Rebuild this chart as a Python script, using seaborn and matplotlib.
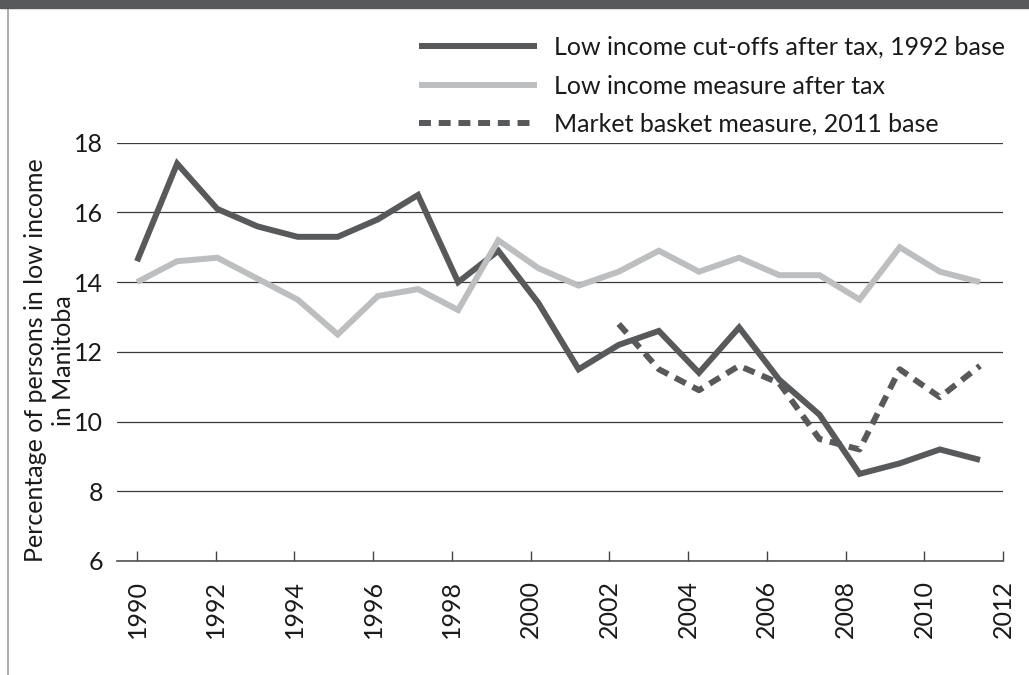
import seaborn as sns
import matplotlib.pyplot as plt
from matplotlib.lines import Line2D
from matplotlib.patches import Rectangle

# data
years = list(range(1990, 2012))
lico = [14.6, 17.4, 16.1, 15.6, 15.3, 15.3, 15.8, 16.5, 14.0, 14.9, 13.4,
        11.5, 12.2, 12.6, 11.4, 12.7, 11.2, 10.2, 8.5, 8.8, 9.2, 8.9]
lim = [14.0, 14.6, 14.7, 14.1, 13.5, 12.5, 13.6, 13.8, 13.2, 15.2, 14.4,
       13.9, 14.3, 14.9, 14.3, 14.7, 14.2, 14.2, 13.5, 15.0, 14.3, 14.0]
mbm_years = list(range(2002, 2012))
mbm = [12.8, 11.5, 10.9, 11.6, 11.1, 9.5, 9.2, 11.5, 10.7, 11.6]

labels = ['Low income cut-offs after tax, 1992 base',
          'Low income measure after tax',
          'Market basket measure, 2011 base']
tick_years = list(range(1990, 2013, 2))
y_ticks = [6, 8, 10, 12, 14, 16, 18]

dark = '#58595b'
light = '#bcbec0'
ink = '#1a1a1a'

sns.set_style('white')
plt.rcParams['font.family'] = ['Lato', 'DejaVu Sans']
fs = 18

W, H = 1029, 675
fig = plt.figure(figsize=(W / 100, H / 100), dpi=100)
ax = fig.add_axes([117 / W, 1 - 561 / H, (1003 - 117) / W, (561 - 142.7) / H])

lw = 4.3
sns.lineplot(x=years, y=lico, color=dark, linewidth=lw, ax=ax, label=labels[0])
sns.lineplot(x=years, y=lim, color=light, linewidth=lw, ax=ax, label=labels[1])
sns.lineplot(x=mbm_years, y=mbm, color=dark, linewidth=lw, ax=ax, label=labels[2],
             linestyle=(0, (2, 1.3)))
for ln in ax.get_lines():
    ln.set_solid_capstyle('butt')
    ln.set_solid_joinstyle('miter')

ax.set_ylim(6, 18)
ax.set_yticks(y_ticks)
ax.set_yticklabels([str(v) for v in y_ticks])
ax.tick_params(axis='y', length=0, pad=10, labelsize=fs, labelcolor=ink)
ax.grid(axis='y', color='#3a3a3a', linewidth=0.9)
ax.set_axisbelow(True)

# data points sit slightly wider apart than the year ticks in the original
px_data = 40.14
px_tick = 39.36
k = px_data / px_tick
ax.set_xlim(1990 - 20 / px_data, 2011 + 23 / px_data)
ax.set_xticks([])

sec = ax.secondary_xaxis('bottom', functions=(lambda x: 1990 + (x - 1990) * k,
                                              lambda t: 1990 + (t - 1990) / k))
sec.set_xticks(tick_years)
sec.set_xticklabels([str(t) for t in tick_years], rotation=90)
sec.tick_params(axis='x', direction='in', length=7.2, width=1, color='#444444',
                pad=13.5, labelsize=fs, labelcolor=ink)
sec.spines['bottom'].set_color('#555555')
sec.spines['bottom'].set_linewidth(1.2)

for s in ['top', 'right', 'left', 'bottom']:
    ax.spines[s].set_visible(False)

ax.set_ylabel('Percentage of persons in low income\nin Manitoba', fontsize=fs,
              color=ink, linespacing=1.3)
ax.yaxis.set_label_coords(-0.047, 0.48)

leg = ax.legend(loc='upper left', bbox_to_anchor=(419 / W, 1 - 36 / H),
                bbox_transform=fig.transFigure, frameon=False, fontsize=fs,
                handlelength=4.7, handletextpad=0.7, labelspacing=0.62,
                borderpad=0, borderaxespad=0)
for t in leg.get_texts():
    t.set_color(ink)

# header band and left rule
fig.patches.append(Rectangle((0, 1 - 8 / H), 1, 8 / H, transform=fig.transFigure,
                             color=dark, zorder=10))
fig.lines.append(Line2D([8 / W, 8 / W], [0, 1 - 8 / H], transform=fig.transFigure,
                        color='#a0a0a0', linewidth=1.2))

fig.savefig('out.png', dpi=100)
